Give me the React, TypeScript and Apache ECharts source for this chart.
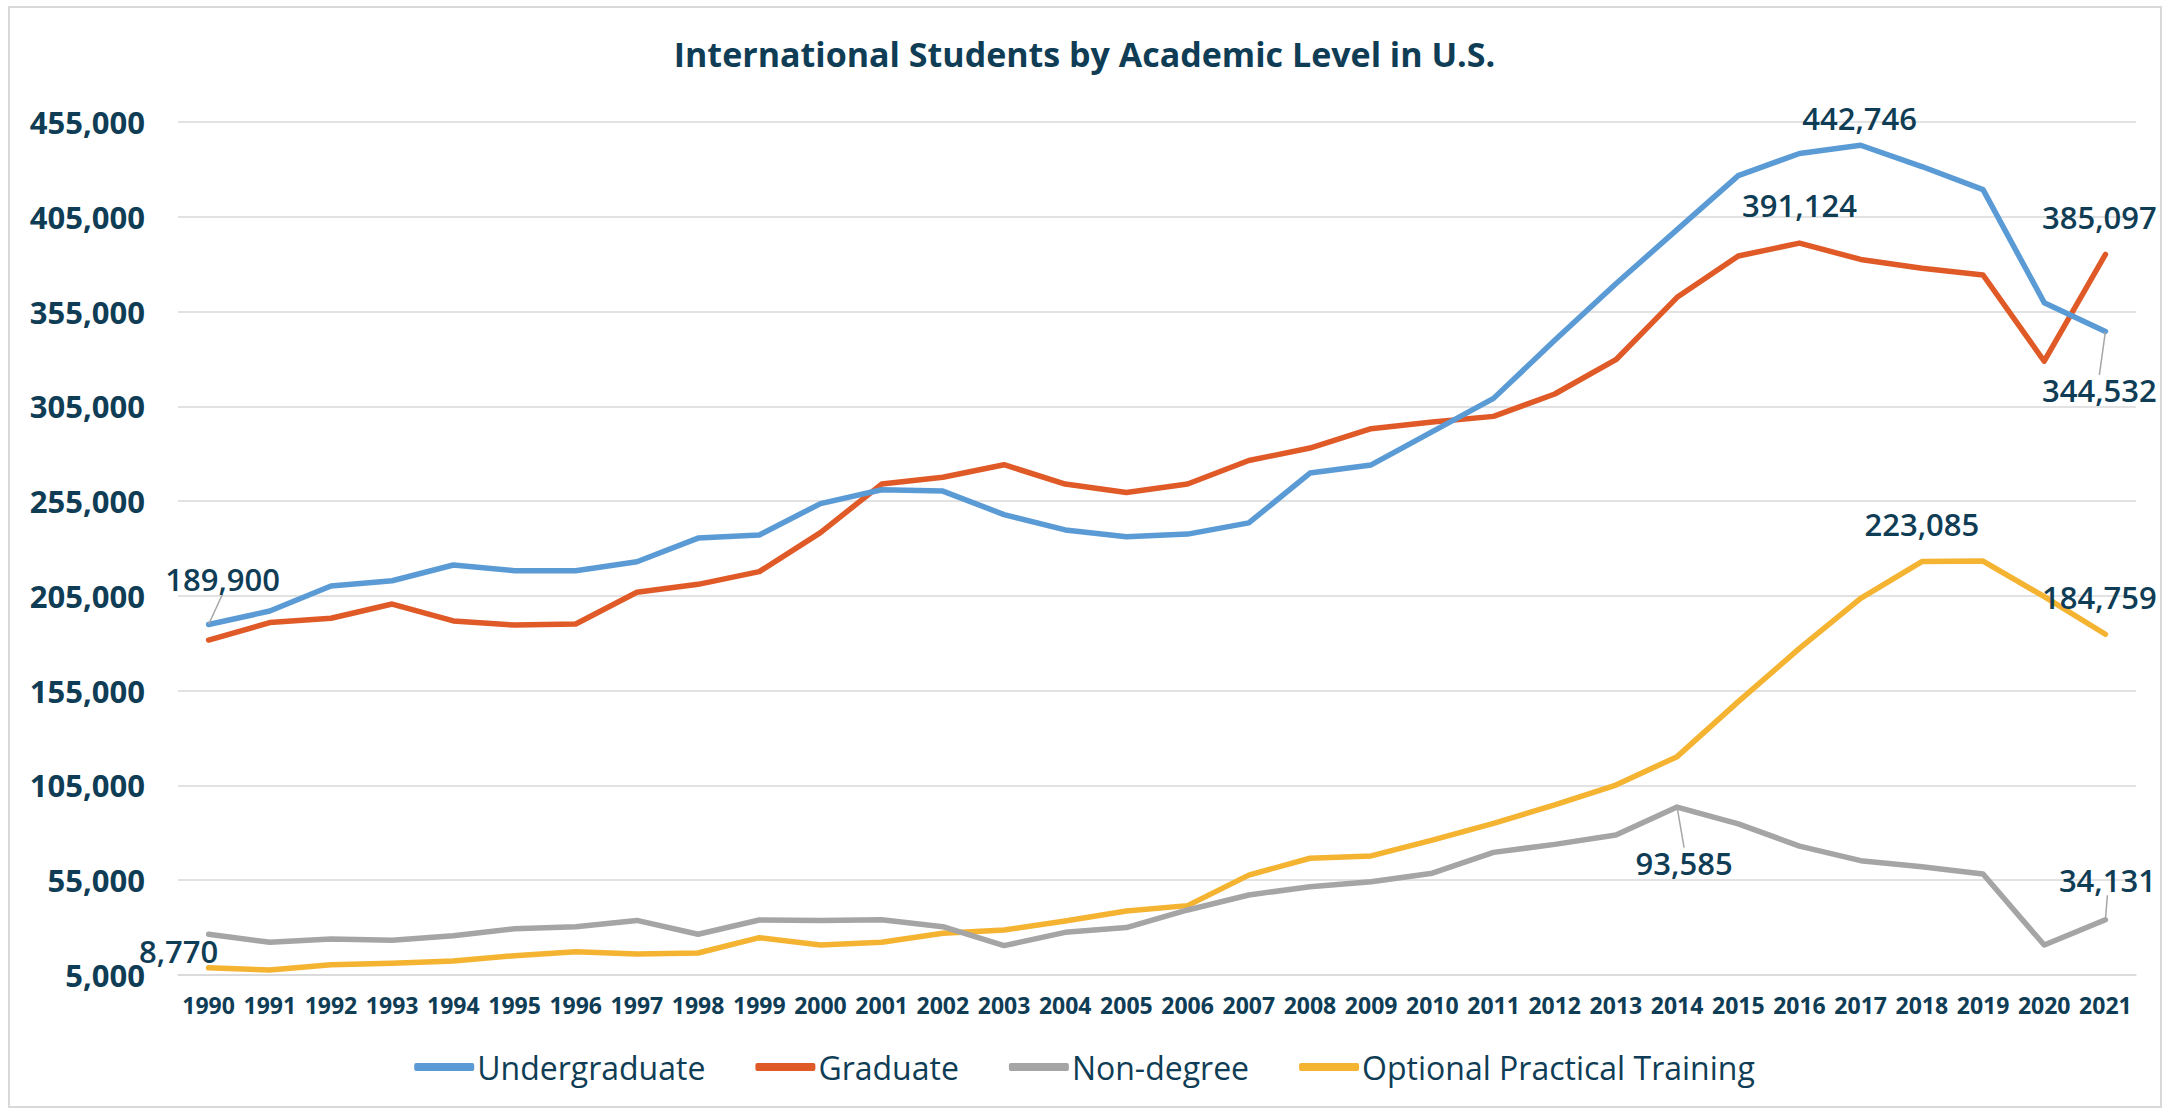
import React, { useEffect, useRef } from "react";
import * as echarts from "echarts";

const years = [
  "1990", "1991", "1992", "1993", "1994", "1995", "1996", "1997", "1998", "1999",
  "2000", "2001", "2002", "2003", "2004", "2005", "2006", "2007", "2008", "2009",
  "2010", "2011", "2012", "2013", "2014", "2015", "2016", "2017", "2018", "2019",
  "2020", "2021",
];

const undergraduate = [
  189900, 197000, 210200, 213000, 221300, 218300, 218300, 223000, 235500, 237100,
  253700, 261000, 260300, 247900, 239800, 236200, 237600, 243500, 269800, 274100,
  291700, 309200, 339800, 369700, 398200, 426700, 438400, 442746, 431500, 419300,
  359700, 344532,
];

const graduate = [
  181700, 190900, 193200, 200700, 191800, 189600, 190200, 206900, 211100, 217800,
  238400, 264000, 267600, 274200, 264000, 259500, 264000, 276400, 283000, 293200,
  296700, 299700, 311500, 329600, 362500, 384300, 391124, 382500, 377800, 374300,
  328800, 385097,
];

const nonDegree = [
  26500, 22300, 24000, 23300, 25700, 29400, 30500, 33800, 26500, 34000,
  33700, 34200, 30500, 20500, 27500, 30000, 39300, 47200, 51600, 54200,
  58700, 69700, 73900, 78900, 93585, 84700, 73000, 65300, 62100, 58300,
  20800, 34131,
];

const opt = [
  8770, 7600, 10400, 11200, 12400, 15200, 17300, 16100, 16600, 24700,
  20800, 22300, 27000, 28700, 33500, 38800, 41600, 57700, 66600, 67800,
  76200, 85000, 94700, 105200, 120200, 149200, 177300, 203700, 223085, 223400,
  204600, 184759,
];

const seriesNames = ["Undergraduate", "Graduate", "Non-degree", "Optional Practical Training"];
const seriesColors = ["#5B9BD5", "#E05A28", "#A5A5A5", "#F4B331"];

// labelled points: [dataIndex, dx, dy, showLeaderLine]
const labelSpecs: Array<Array<[number, number, number, boolean]>> = [
  [[0, 14, -46, true], [27, -1, -27, false], [31, -6, 59, true]],
  [[26, 0, -38, false], [31, -6, -38, false]],
  [[24, 7, 56, true], [31, 2, -40, true]],
  [[0, -30, -17, false], [28, 0, -38, false], [31, -6, -37, false]],
];

const TEXT = "#0F3D55";
const fmt = (v: number) => Number(v).toLocaleString("en-US");

export default function App() {
  const ref = useRef<HTMLDivElement>(null);

  useEffect(() => {
    if (!ref.current) return;
    const chart = echarts.init(ref.current, null, { renderer: "svg" });
    const allData = [undergraduate, graduate, nonDegree, opt];

    const series = allData.map((arr, si) => {
      const specs = labelSpecs[si];
      const data = arr.map((v, i) => {
        const spec = specs.find((s) => s[0] === i);
        if (!spec) return v;
        return {
          value: v,
          label: {
            show: true,
            position: "inside",
            formatter: (p: any) => fmt(p.value),
            color: TEXT,
            fontFamily: "Open Sans",
            fontWeight: 600,
            fontSize: 31,
            textBorderWidth: 0,
          },
          labelLine: { show: spec[3] },
        };
      });
      return {
        name: seriesNames[si],
        type: "line",
        data,
        symbol: "circle",
        symbolSize: 1,
        showSymbol: true,
        color: seriesColors[si],
        lineStyle: { width: 5.5, color: seriesColors[si], cap: "round", join: "round" },
        itemStyle: { color: seriesColors[si] },
        label: { show: false },
        labelLine: { show: true, lineStyle: { color: "#A6A6A6", width: 1.5 } },
        labelLayout: (p: any) => {
          const spec = specs.find((s) => s[0] === p.dataIndex);
          if (!spec) return {};
          return { dx: spec[1], dy: spec[2], hideOverlap: false };
        },
        emphasis: { disabled: true },
        z: 10 - si,
      };
    });

    chart.setOption({
      animation: false,
      backgroundColor: "#FFFFFF",
      title: {
        text: "International Students by Academic Level in U.S.",
        left: "center",
        top: 32,
        textStyle: { fontFamily: "Open Sans", fontWeight: "bold", fontSize: 34, color: TEXT },
      },
      legend: {
        data: seriesNames,
        left: "center",
        top: 1046,
        icon: "roundRect",
        itemWidth: 60,
        itemHeight: 8,
        itemGap: 50,
        textStyle: { fontFamily: "Open Sans", fontSize: 32, color: TEXT, padding: [0, 0, 0, -2] },
      },
      grid: { left: 178, right: 33, top: 122, bottom: 135 },
      xAxis: {
        type: "category",
        data: years,
        boundaryGap: true,
        axisTick: { show: false },
        axisLine: { show: true, lineStyle: { color: "#D9D9D9", width: 1.5 } },
        axisLabel: {
          interval: 0,
          margin: 18,
          fontFamily: "Open Sans",
          fontWeight: "bold",
          fontSize: 23,
          color: TEXT,
        },
      },
      yAxis: {
        type: "value",
        min: 5000,
        max: 455000,
        interval: 50000,
        axisLine: { show: false },
        axisTick: { show: false },
        splitLine: { lineStyle: { color: "#D9D9D9", width: 1.5 } },
        axisLabel: {
          margin: 33,
          formatter: (v: number) => fmt(v),
          fontFamily: "Open Sans",
          fontWeight: "bold",
          fontSize: 31,
          color: TEXT,
        },
      },
      graphic: [
        {
          type: "rect",
          silent: true,
          z: -10,
          shape: { x: 9, y: 7, width: 2152, height: 1100 },
          style: { fill: "none", stroke: "#D9D9D9", lineWidth: 2 },
        },
      ],
      series,
    });

    return () => chart.dispose();
  }, []);

  return (
    <div
      ref={ref}
      style={{ position: "absolute", left: 0, top: 0, width: 2169, height: 1110 }}
    />
  );
}
